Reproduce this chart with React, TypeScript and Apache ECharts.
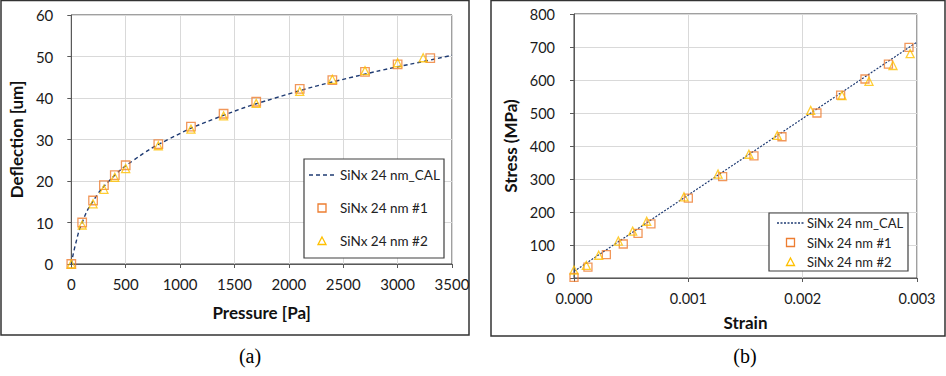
import React, { useEffect, useRef } from "react";
import * as echarts from "echarts";

// ---- Panel (a): deflection vs pressure ----
const pressure1 = [0, 100, 200, 300, 400, 500, 800, 1100, 1400, 1700, 2100, 2400, 2700, 3000, 3300];
const deflection1 = [0, 10, 15.3, 19, 21.4, 23.8, 28.9, 33.1, 36.2, 39.1, 42.2, 44.3, 46.3, 48.1, 49.6];
const pressure2 = [0, 100, 200, 300, 400, 500, 800, 1100, 1400, 1700, 2100, 2400, 2700, 3000, 3235];
const deflection2 = [0, 9.4, 14.5, 18, 20.9, 23, 28.5, 32.5, 35.7, 38.7, 41.6, 44.5, 46.6, 48.5, 49.7];
const pressureCal = [0, 41, 100, 196, 347, 572, 890, 1318, 1875, 2579, 3449, 3500];
const deflectionCal = [0, 5, 10, 15, 20, 25, 30, 35, 40, 45, 50, 50.3];

// ---- Panel (b): stress vs strain ----
const strain1 = [0, 0.000122, 0.000283, 0.000431, 0.00056, 0.000673, 0.001, 0.0013, 0.001574, 0.001819, 0.002125, 0.002332, 0.002545, 0.00275, 0.00293];
const stress1 = [2, 33, 71, 103, 135, 164, 242, 307, 370, 428, 500, 554, 603, 648, 699];
const strain2 = [0, 0.000108, 0.000216, 0.000388, 0.000513, 0.000636, 0.000962, 0.00126, 0.00153, 0.001778, 0.00207, 0.002344, 0.00258, 0.00279, 0.00294];
const stress2 = [24, 38, 69, 112, 142, 172, 246, 315, 375, 432, 508, 553, 596, 644, 680];
const strainCal = [0, 0.003];
const stressCal = [20, 715];

const names = ["SiNx 24 nm_CAL", "SiNx 24 nm #1", "SiNx 24 nm #2"];
const captions = ["(a)", "(b)"];

const FONT = "Lato";
const NAVY = "#1f3b73";
const ORANGE = "#ed7d31";
const GOLD = "#ffc000";

const zip = (a: number[], b: number[]) => a.map((v, i) => [v, b[i]]);

function axisCommon() {
  return {
    axisLine: { show: true, lineStyle: { color: "#595959", width: 1 } },
    axisTick: { show: true, length: 4, lineStyle: { color: "#595959" } },
    splitLine: { show: true, lineStyle: { color: "#d9d9d9", width: 1 } },
    nameTextStyle: { color: "#111", fontFamily: FONT, fontSize: 17, fontWeight: "bold" as const },
    nameLocation: "middle" as const,
  };
}

function scatterSeries(name: string, data: number[][], symbol: string, color: string, size: number) {
  return {
    name,
    type: "scatter",
    data,
    symbol,
    symbolSize: size,
    itemStyle: { color: "rgba(255,255,255,0)", borderColor: color, borderWidth: 1.3 },
    z: 3,
  };
}

function legendGraphic(
  box: { x: number; y: number; w: number; h: number },
  rows: number[],
  lx0: number,
  lx1: number,
  tx: number,
  fontSize: number,
  dash: number[],
) {
  const cx = (lx0 + lx1) / 2;
  const s = 4;
  const els: any[] = [
    { type: "rect", shape: { x: box.x, y: box.y, width: box.w, height: box.h }, style: { fill: "#fff", stroke: "#404040", lineWidth: 1.2 }, z: 100 },
    { type: "line", shape: { x1: lx0, y1: rows[0], x2: lx1, y2: rows[0] }, style: { stroke: NAVY, lineWidth: 1.4, lineDash: dash }, z: 101 },
    { type: "rect", shape: { x: cx - s, y: rows[1] - s, width: 2 * s, height: 2 * s }, style: { fill: "none", stroke: ORANGE, lineWidth: 1.3 }, z: 101 },
    { type: "polygon", shape: { points: [[cx, rows[2] - s], [cx + s, rows[2] + s - 0.5], [cx - s, rows[2] + s - 0.5]] }, style: { fill: "none", stroke: GOLD, lineWidth: 1.3 }, z: 101 },
  ];
  names.forEach((n, i) => {
    els.push({
      type: "text", x: tx, y: rows[i], z: 101,
      style: { text: n, font: `${fontSize}px ${FONT}`, fill: "#222", textAlign: "left", textVerticalAlign: "middle" },
    });
  });
  return els;
}

function optionA() {
  return {
    animation: false,
    grid: { left: 65, top: 15, width: 387, height: 249, show: true, borderColor: "#404040", borderWidth: 1, backgroundColor: "transparent" },
    xAxis: {
      type: "value", min: 0, max: 3500, interval: 500,
      ...axisCommon(),
      axisLabel: { color: "#1a1a1a", fontFamily: FONT, fontSize: 15, margin: 12, formatter: (v: number) => String(v) },
      name: "Pressure [Pa]", nameGap: 40,
    },
    yAxis: {
      type: "value", min: 0, max: 60, interval: 10,
      ...axisCommon(),
      axisLabel: { color: "#1a1a1a", fontFamily: FONT, fontSize: 15, margin: 18 },
      name: "Deflection [um]", nameGap: 39,
    },
    series: [
      {
        name: names[0], type: "line", data: zip(pressureCal, deflectionCal), smooth: true,
        symbol: "none", lineStyle: { color: NAVY, width: 1.4, type: [4, 3] }, itemStyle: { color: NAVY }, z: 2,
      },
      scatterSeries(names[1], zip(pressure1, deflection1), "rect", ORANGE, 8.5),
      scatterSeries(names[2], zip(pressure2, deflection2), "triangle", GOLD, 8),
    ],
    graphic: [
      { type: "rect", shape: { x: 1, y: 0.5, width: 468, height: 334.5 }, style: { fill: "none", stroke: "#333", lineWidth: 1.5 }, silent: true },
      { type: "text", x: 250, y: 356, style: { text: captions[0], font: "20px 'Liberation Serif'", fill: "#000", textAlign: "center", textVerticalAlign: "middle" } },
      ...legendGraphic({ x: 304, y: 159, w: 140, h: 99 }, [175, 208, 241], 309, 335, 340, 13.5, [4, 3]),
    ],
  };
}

function optionB() {
  return {
    animation: false,
    grid: { left: 94, top: 14, width: 343, height: 264, show: true, borderColor: "#404040", borderWidth: 1, backgroundColor: "transparent" },
    xAxis: {
      type: "value", min: 0, max: 0.003, interval: 0.001,
      ...axisCommon(),
      axisLabel: { color: "#1a1a1a", fontFamily: FONT, fontSize: 14.5, margin: 13, formatter: (v: number) => v.toFixed(3) },
      name: "Strain", nameGap: 36,
    },
    yAxis: {
      type: "value", min: 0, max: 800, interval: 100,
      ...axisCommon(),
      axisLabel: { color: "#1a1a1a", fontFamily: FONT, fontSize: 14.5, margin: 19 },
      name: "Stress (MPa)", nameGap: 49,
    },
    series: [
      {
        name: names[0], type: "line", data: zip(strainCal, stressCal),
        symbol: "none", lineStyle: { color: NAVY, width: 1.2, type: [2, 1.5] }, itemStyle: { color: NAVY }, z: 2,
      },
      scatterSeries(names[1], zip(strain1, stress1), "rect", ORANGE, 8),
      scatterSeries(names[2], zip(strain2, stress2), "triangle", GOLD, 8),
    ],
    graphic: [
      { type: "rect", shape: { x: 11, y: 0.5, width: 454, height: 335.5 }, style: { fill: "none", stroke: "#333", lineWidth: 1.5 }, silent: true },
      { type: "text", x: 265, y: 356, style: { text: captions[1], font: "20px 'Liberation Serif'", fill: "#000", textAlign: "center", textVerticalAlign: "middle" } },
      ...legendGraphic({ x: 289, y: 213, w: 139, h: 58 }, [223, 242.5, 262], 297, 324, 327, 13, [2, 1.5]),
    ],
  };
}

function Chart({ left, width, option }: { left: number; width: number; option: any }) {
  const ref = useRef<HTMLDivElement>(null);
  useEffect(() => {
    if (!ref.current) return;
    const chart = echarts.init(ref.current, undefined, { renderer: "svg" });
    chart.setOption(option);
    return () => chart.dispose();
  }, []);
  return <div ref={ref} style={{ position: "absolute", left, top: 0, width, height: 376 }} />;
}

export default function App() {
  return (
    <div style={{ position: "fixed", left: 0, top: 0, width: 946, height: 376, background: "#fff" }}>
      <Chart left={0} width={480} option={optionA()} />
      <Chart left={480} width={466} option={optionB()} />
    </div>
  );
}
